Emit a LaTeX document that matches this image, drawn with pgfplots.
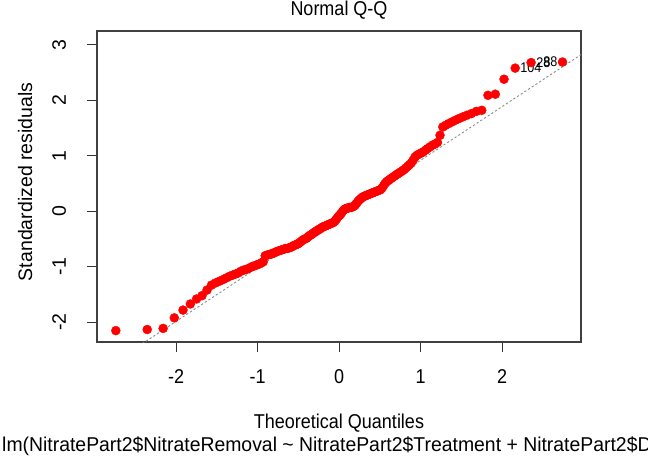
\documentclass[border=0pt]{standalone}
\usepackage{fontspec}
\setmainfont{Liberation Sans}[FakeStretch=0.9]
\newfontfamily\rotfont{Liberation Sans}
\newfontfamily\subfont{Liberation Sans}[FakeStretch=0.97]
\usepackage{pgfplots}
\pgfplotsset{compat=1.18}
\usepackage{pgfplotstable}
\newcommand\rf{\fontsize{20}{23}\selectfont}
\newcommand\rrf{\rotfont\fontsize{19.5}{23}\selectfont}
\pgfplotstableread{
x y
-2.739 -2.15
-2.354 -2.13
-2.159 -2.11
-2.022 -1.92
-1.915 -1.78
-1.825 -1.67
-1.749 -1.58
-1.682 -1.52
-1.621 -1.42
-1.566 -1.33
-1.515 -1.29
-1.468 -1.26
-1.424 -1.23
-1.383 -1.20
-1.343 -1.17
-1.306 -1.15
-1.271 -1.13
-1.237 -1.11
-1.205 -1.08
-1.173 -1.06
-1.143 -1.05
-1.113 -1.03
-1.085 -1.01
-1.057 -0.99
-1.031 -0.98
-1.004 -0.96
-0.979 -0.95
-0.955 -0.93
-0.931 -0.91
-0.907 -0.80
-0.884 -0.79
-0.862 -0.78
-0.840 -0.77
-0.818 -0.76
-0.796 -0.75
-0.775 -0.73
-0.755 -0.72
-0.734 -0.71
-0.714 -0.70
-0.694 -0.69
-0.674 -0.68
-0.655 -0.67
-0.636 -0.67
-0.617 -0.66
-0.598 -0.65
-0.580 -0.64
-0.562 -0.62
-0.544 -0.61
-0.526 -0.60
-0.508 -0.59
-0.491 -0.57
-0.473 -0.55
-0.456 -0.53
-0.439 -0.51
-0.422 -0.50
-0.405 -0.49
-0.389 -0.47
-0.372 -0.45
-0.356 -0.43
-0.339 -0.42
-0.323 -0.40
-0.307 -0.38
-0.291 -0.37
-0.275 -0.35
-0.259 -0.34
-0.243 -0.32
-0.227 -0.31
-0.210 -0.29
-0.195 -0.28
-0.179 -0.27
-0.163 -0.26
-0.148 -0.25
-0.132 -0.24
-0.116 -0.23
-0.101 -0.22
-0.085 -0.21
-0.070 -0.20
-0.054 -0.18
-0.039 -0.15
-0.023 -0.12
-0.008 -0.09
0.008 -0.07
0.023 -0.04
0.039 -0.01
0.054 0.02
0.070 0.04
0.085 0.05
0.101 0.06
0.116 0.06
0.132 0.07
0.148 0.07
0.163 0.08
0.179 0.09
0.195 0.11
0.210 0.14
0.227 0.17
0.243 0.20
0.259 0.22
0.275 0.24
0.291 0.26
0.307 0.27
0.323 0.28
0.339 0.29
0.356 0.30
0.372 0.31
0.389 0.32
0.405 0.33
0.422 0.34
0.439 0.35
0.456 0.36
0.473 0.37
0.491 0.38
0.508 0.39
0.526 0.42
0.544 0.46
0.562 0.50
0.580 0.53
0.598 0.55
0.617 0.57
0.636 0.59
0.655 0.61
0.674 0.63
0.694 0.65
0.714 0.67
0.734 0.69
0.755 0.71
0.775 0.73
0.796 0.75
0.818 0.78
0.840 0.81
0.862 0.84
0.884 0.87
0.907 0.92
0.931 0.98
0.955 1.01
0.979 1.03
1.004 1.05
1.031 1.07
1.057 1.10
1.085 1.13
1.113 1.16
1.143 1.19
1.173 1.21
1.205 1.24
1.237 1.37
1.271 1.52
1.306 1.55
1.343 1.58
1.383 1.61
1.424 1.64
1.468 1.67
1.515 1.70
1.566 1.73
1.621 1.76
1.682 1.80
1.749 1.82
1.825 2.09
1.915 2.11
2.022 2.38
2.159 2.58
2.354 2.68
2.739 2.69
}\qqdata
\begin{document}
\begin{tikzpicture}[x=1pt,y=1pt]
\useasboundingbox (0,0) rectangle (648,461);
\begin{axis}[
  at={(97pt,119pt)}, anchor=south west,
  scale only axis, width=484pt, height=311pt,
  xmin=-2.97, xmax=2.966, ymin=-2.355, ymax=3.249,
  xtick={-2,-1,0,1,2}, xticklabels={-2,-1,0,1,2},
  ytick={-2,-1,0,1,2,3}, yticklabels={-2,-1,0,1,2,3},
  xtick pos=left, ytick pos=left,
  tick align=outside, major tick length=10pt,
  tick style={black!80, line width=1pt},
  axis line style={black!75, line width=1.3pt},
  tick label style={inner sep=0pt},
  xticklabel style={font=\rf, anchor=base, yshift=-31pt},
  yticklabel style={font=\rrf, xshift=-21pt, rotate=90, anchor=base},
  title={Normal Q-Q},
  title style={font=\rf, at={(0.5,1)}, anchor=base, yshift=9pt, inner sep=0pt},
  xlabel={Theoretical Quantiles},
  xlabel style={font=\rf, at={(0.5,0)}, anchor=base, yshift=-86pt, inner sep=0pt},
  ylabel={Standardized residuals},
  ylabel style={font=\rrf, at={(-0.134,0.515)}, anchor=base, inner sep=0pt},
  axis background/.style={fill=white},
]
\addplot[black!45, line width=0.9pt, dash pattern=on 2.2pt off 2.2pt, forget plot]
  coordinates {(-3,-2.952) (3,2.856)};
\addplot[only marks, mark=*, mark size=4.5pt, color=red,
  mark options={draw=red, fill=red}] table {\qqdata};
\node[anchor=west, inner sep=0pt, xshift=5pt, font=\fontsize{14}{16}\selectfont]
  at (axis cs:2.159,2.58) {104};
\node[anchor=west, inner sep=0pt, xshift=5pt, font=\fontsize{14}{16}\selectfont]
  at (axis cs:2.354,2.68) {28};
\node[anchor=east, inner sep=0pt, xshift=-5pt, font=\fontsize{14}{16}\selectfont]
  at (axis cs:2.739,2.69) {88};
\end{axis}
\node[anchor=base west, inner sep=0pt, font=\subfont\fontsize{20}{23}\selectfont] at (2,10)
  {lm(NitratePart2\$NitrateRemoval \textasciitilde{} NitratePart2\$Treatment + NitratePart2\$D};
\end{tikzpicture}
\end{document}
